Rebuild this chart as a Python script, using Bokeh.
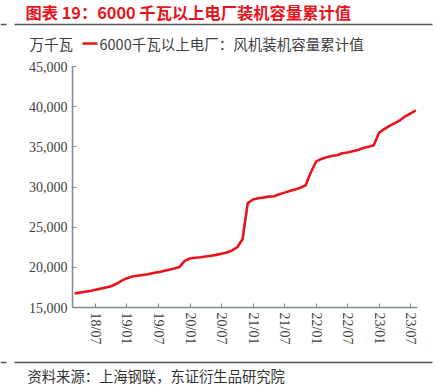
from bokeh.plotting import figure
from bokeh.models import Range1d, FixedTicker, NumeralTickFormatter
from bokeh.core.properties import value
from bokeh.embed import file_html
from bokeh.resources import INLINE

# ---- data (monthly, 2018-03 .. 2023-08) ----
months = ["18/03", "18/04", "18/05", "18/06", "18/07", "18/08", "18/09", "18/10", "18/11", "18/12",
          "19/01", "19/02", "19/03", "19/04", "19/05", "19/06", "19/07", "19/08", "19/09", "19/10", "19/11", "19/12",
          "20/01", "20/02", "20/03", "20/04", "20/05", "20/06", "20/07", "20/08", "20/09", "20/10", "20/11", "20/12",
          "21/01", "21/02", "21/03", "21/04", "21/05", "21/06", "21/07", "21/08", "21/09", "21/10", "21/11", "21/12",
          "22/01", "22/02", "22/03", "22/04", "22/05", "22/06", "22/07", "22/08", "22/09", "22/10", "22/11", "22/12",
          "23/01", "23/02", "23/03", "23/04", "23/05", "23/06", "23/07", "23/08"]
wind_capacity = [16750, 16850, 16950, 17050, 17200, 17350, 17500, 17650, 17950, 18350,
                 18650, 18850, 18950, 19050, 19150, 19300, 19400, 19550, 19700, 19850, 20050, 20800,
                 21100, 21200, 21250, 21350, 21450, 21550, 21700, 21850, 22100, 22500, 23500, 28000,
                 28450, 28600, 28700, 28800, 28850, 29100, 29300, 29500, 29700, 29900, 30200, 31800,
                 33150, 33500, 33700, 33850, 33950, 34200, 34300, 34450, 34600, 34850, 35000, 35200,
                 36750, 37200, 37600, 37950, 38300, 38800, 39150, 39550]
tick_labels = ["18/07", "19/01", "19/07", "20/01", "20/07", "21/01", "21/07", "22/01", "22/07", "23/01", "23/07"]
y_ticks = [15000, 20000, 25000, 30000, 35000, 40000, 45000]

title_text = "图表 19：6000 千瓦以上电厂装机容量累计值"
unit_text = "万千瓦"
series_name = "6000千瓦以上电厂：风机装机容量累计值"
source_text = "资料来源：上海钢联，东证衍生品研究院"

CJK = value("Noto Sans CJK SC")
SERIF = "Liberation Serif"
RED = "#e8141c"
AXIS = "#7f8c8d"
W, H = 438, 389

# plot area in figure pixels (the axes sit here; the canvas itself is all frame)
AX_L, AX_R, AX_T, AX_B = 72, 417, 66, 307
X0, X1 = -0.38, 65.33        # month index at the left / right end of the x axis
Y0, Y1 = 15000, 45000        # value at the bottom / top of the y axis
xs = (X1 - X0) / (AX_R - AX_L)
ys = (Y1 - Y0) / (AX_B - AX_T)

p = figure(width=W, height=H,
           x_range=Range1d(X0 - AX_L * xs, X1 + (W - AX_R) * xs),
           y_range=Range1d(Y0 - (H - AX_B) * ys, Y1 + AX_T * ys),
           toolbar_location=None, output_backend="svg", min_border=0)
p.extra_x_ranges = {"px": Range1d(0, W)}
p.extra_y_ranges = {"px": Range1d(H, 0)}
p.xgrid.visible = False
p.ygrid.visible = False
p.outline_line_color = None

idx = list(range(len(months)))
p.line(idx, wind_capacity, line_color=RED, line_width=2.6, line_join="round")

tick_pos = [months.index(t) for t in tick_labels]
p.xaxis.ticker = FixedTicker(ticks=tick_pos)
p.xaxis.major_label_overrides = {pos: lab for pos, lab in zip(tick_pos, tick_labels)}
p.xaxis.major_label_orientation = "vertical"
p.xaxis.fixed_location = Y0
p.xaxis.bounds = (X0, X1)
p.yaxis.ticker = FixedTicker(ticks=y_ticks)
p.yaxis.formatter = NumeralTickFormatter(format="0,0")
p.yaxis.fixed_location = X0
p.yaxis.bounds = (Y0, Y1)
for ax in (p.xaxis, p.yaxis):
    ax.axis_line_color = AXIS
    ax.axis_line_width = 1.5
    ax.major_tick_line_color = AXIS
    ax.major_tick_in = 4
    ax.major_tick_out = 0
    ax.minor_tick_line_color = None
    ax.major_label_text_font = SERIF
    ax.major_label_text_font_size = "14px"
    ax.major_label_text_color = "#404040"
    ax.major_label_standoff = 5

# ---- header / footer decorations (figure pixels via the "px" ranges) ----
def txt(x, y, t, size, color, bold=False):
    p.text(x=[x], y=[y], text=[t], text_font=CJK, text_font_size=size, text_color=color,
           text_font_style="bold" if bold else "normal", text_baseline="middle",
           text_align="left", x_range_name="px", y_range_name="px")


def seg(x0, x1, y, width, color):
    p.segment(x0=[x0], y0=[y], x1=[x1], y1=[y], line_color=color, line_width=width,
              x_range_name="px", y_range_name="px")


txt(25, 11.5, title_text, "16.3px", RED, bold=True)
seg(0, 6, 24, 1.4, "#555555")
seg(14, 432, 24, 1.4, "#555555")
txt(29, 43, unit_text, "14.5px", "#404040")
seg(82, 97, 43, 2.6, RED)
txt(99, 43, series_name, "14.5px", "#404040")
seg(0, 6, 362, 1.4, "#555555")
seg(14, 432, 362, 1.4, "#555555")
txt(27, 375, source_text, "14.3px", "#333333")

open("out.html", "w").write(file_html(p, INLINE))
